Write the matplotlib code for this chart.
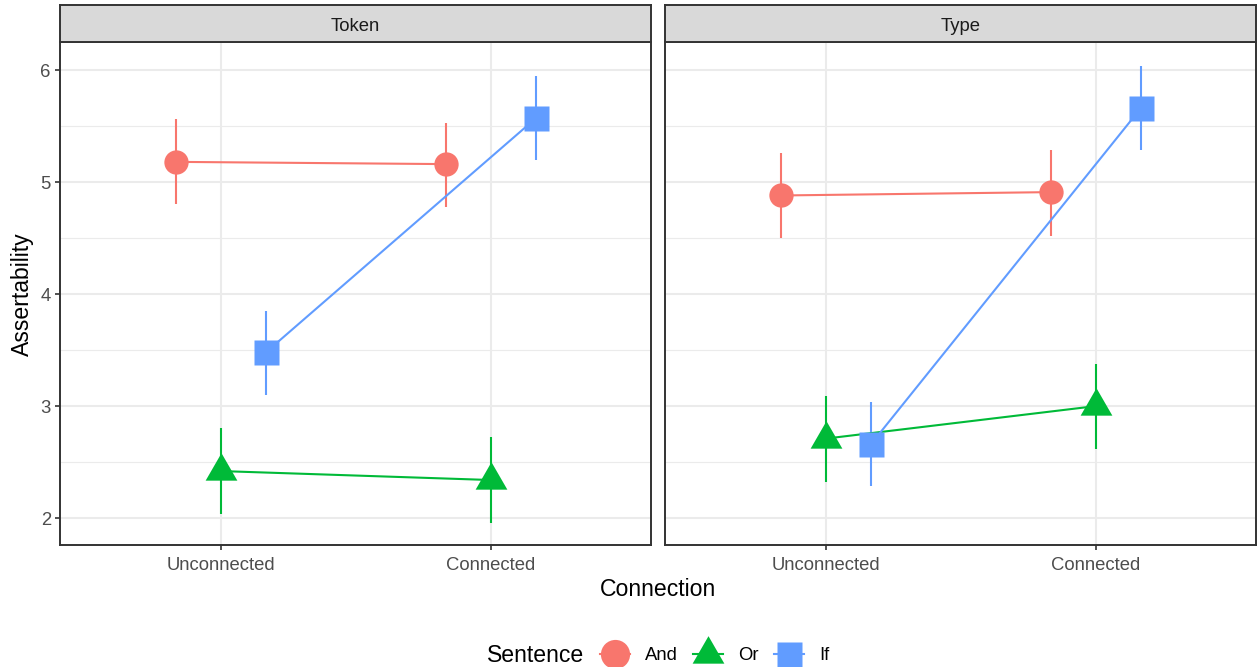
import matplotlib
matplotlib.use('Agg')
import matplotlib.pyplot as plt
import numpy as np
from matplotlib.lines import Line2D

plt.rcParams['font.family'] = ['Liberation Sans', 'DejaVu Sans']

# data (rows: And, Or, If; cols: Unconnected, Connected)
panels = ['Token', 'Type']
connections = ['Unconnected', 'Connected']
sentences = ['And', 'Or', 'If']

token_mean = [[5.18, 5.16], [2.42, 2.34], [3.48, 5.57]]
token_lower = [[4.80, 4.78], [2.04, 1.96], [3.10, 5.20]]
token_upper = [[5.56, 5.53], [2.80, 2.72], [3.85, 5.95]]

type_mean = [[4.88, 4.91], [2.71, 3.00], [2.66, 5.66]]
type_lower = [[4.50, 4.52], [2.32, 2.62], [2.29, 5.29]]
type_upper = [[5.26, 5.29], [3.09, 3.38], [3.04, 6.04]]

colors = ['#F8766D', '#00BA38', '#619CFF']
TRI = [(0, 1), (-0.866, -0.5), (0.866, -0.5)]
markers = ['o', TRI, 's']
msizes = [17.5, 26.4, 18]
legend_msizes = [21, 26.4, 18]
dodge = [-1 / 6, 0, 1 / 6]

W, H = 1257, 667
fig = plt.figure(figsize=(W / 100, H / 100), dpi=100)

panel_data = {
    'Token': (token_mean, token_lower, token_upper),
    'Type': (type_mean, type_lower, type_upper),
}
lefts = [60, 665]
pw = 591
top, bottom = 42, 545
strip_top = 5

for i, name in enumerate(panels):
    ax = fig.add_axes([lefts[i] / W, 1 - bottom / H, pw / W, (bottom - top) / H])
    sax = fig.add_axes([lefts[i] / W, 1 - top / H, pw / W, (top - strip_top) / H])
    mean, lower, upper = panel_data[name]
    x = np.arange(1, len(connections) + 1)

    for k in range(len(sentences)):
        xs = x + dodge[k]
        m = np.array(mean[k])
        lo = np.array(lower[k])
        hi = np.array(upper[k])
        ax.errorbar(xs, m, yerr=[m - lo, hi - m], fmt='none', ecolor=colors[k],
                    elinewidth=1.5, capsize=0, zorder=3)
        ax.plot(xs, m, color=colors[k], lw=1.5, zorder=4)
        ax.plot(xs, m, linestyle='none', marker=markers[k], ms=msizes[k],
                color=colors[k], mec='none', zorder=5)

    ax.set_xlim(0.404, 2.593)
    ax.set_ylim(1.76, 6.25)
    ax.set_xticks(x)
    ax.set_xticklabels(connections)
    ax.set_yticks([2, 3, 4, 5, 6])
    ax.set_yticks([2.5, 3.5, 4.5, 5.5], minor=True)
    if i == 0:
        ax.set_yticklabels(['2', '3', '4', '5', '6'])
    else:
        ax.tick_params(axis='y', which='both', left=False, labelleft=False)
    ax.grid(True, which='major', color='#EBEBEB', lw=1.5, zorder=0)
    ax.grid(True, which='minor', axis='y', color='#EBEBEB', lw=0.8, zorder=0)
    ax.set_axisbelow(True)
    ax.tick_params(axis='both', which='major', length=3.6, width=1.2,
                   color='#333333', labelcolor='#4D4D4D', labelsize=13.3, pad=3)
    ax.tick_params(axis='x', which='major', pad=5)
    ax.tick_params(axis='y', which='minor', length=0)
    for sp in ax.spines.values():
        sp.set_color('#333333')
        sp.set_linewidth(1.4)

    sax.set_facecolor('#D9D9D9')
    sax.set_xticks([])
    sax.set_yticks([])
    for sp in sax.spines.values():
        sp.set_color('#333333')
        sp.set_linewidth(1.4)
    sax.text(0.5, 0.42, name, ha='center', va='center', fontsize=13.3,
             color='#1A1A1A', transform=sax.transAxes)

fig.text((60 + 1256) / 2 / W, 1 - 590 / H, 'Connection', ha='center', va='center',
         fontsize=16.6)
fig.text(22 / W, 1 - 294 / H, 'Assertability', ha='center', va='center',
         rotation=90, fontsize=16.6)

# legend
ly = 1 - 656 / H
fig.text(487 / W, ly, 'Sentence', ha='left', va='center', fontsize=16.6)
handles = [Line2D([], [], color=c, lw=1.5, marker=mk, ms=ms, mec='none')
           for c, mk, ms in zip(colors, markers, legend_msizes)]
fig.legend(handles, sentences, ncol=3, loc='center left',
           bbox_to_anchor=(600 / W, ly), frameon=False, fontsize=13.3,
           handlelength=1.62, handletextpad=0.81, columnspacing=0.84,
           borderpad=0, borderaxespad=0)

fig.savefig('out.png', dpi=100)
